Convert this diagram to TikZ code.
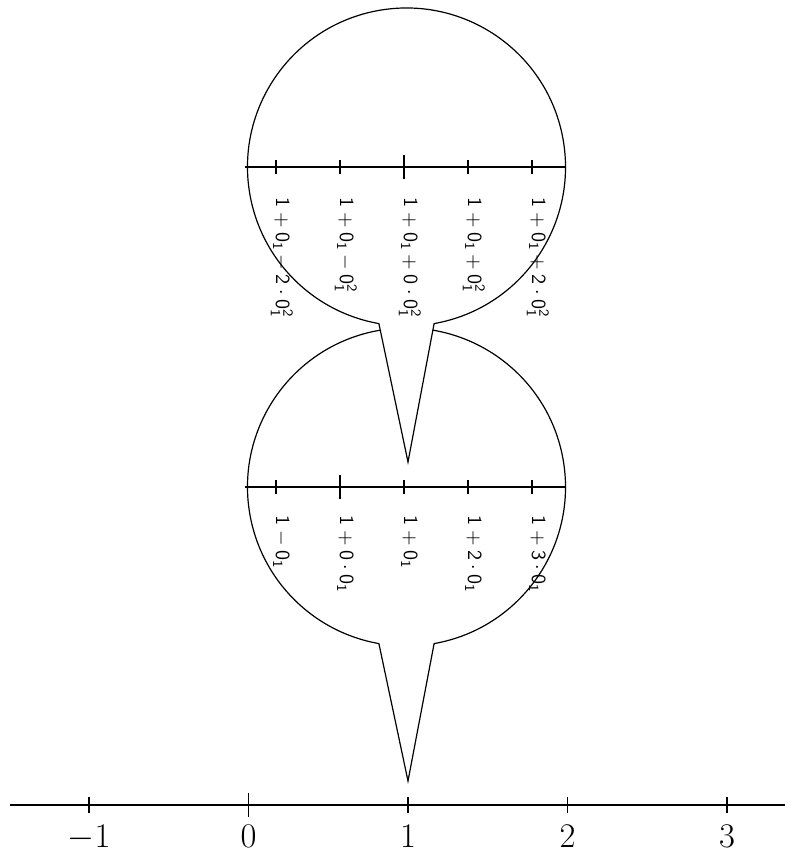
\documentclass[tikz,border=0pt]{standalone}
\usetikzlibrary{calc}
\begin{document}
\begin{tikzpicture}[x=0.5pt,y=0.5pt,line width=0.6pt,
  lab/.style={rotate=-90,anchor=base west,inner sep=0pt,font=\fontsize{10}{12}\selectfont},
  num/.style={anchor=base,inner sep=0pt,font=\fontsize{17}{20}\selectfont},
  bubble/.style={draw,fill=white}]
\useasboundingbox (0,0) rectangle (799,853);
% ---------- lower callout ----------
\coordinate (lc) at (406.5,366);
\coordinate (ltip) at (408,72);
\draw[bubble] ($(lc)+(280:159)$) arc[start angle=280,end angle=620,radius=159] -- (ltip) -- cycle;
\coordinate (la) at (245,366);
\coordinate (lb) at (566,366);
\draw (la) -- (lb);
\foreach \i/\t in {0/{1-0_1},1/{1+0\cdot 0_1},2/{1+0_1},3/{1+2\cdot 0_1},4/{1+3\cdot 0_1}}{
  \pgfmathsetmacro{\xx}{276+64*\i}
  \ifnum\i=1 \def\hl{12}\else\def\hl{7}\fi
  \coordinate (lt\i a) at (\xx,366-\hl);
  \coordinate (lt\i b) at (\xx,366+\hl);
  \draw (lt\i a) -- (lt\i b);
  \node[lab] (ll\i) at (\xx,338) {$\mathsf{\t}$};
}
% ---------- upper callout ----------
\coordinate (uc) at (406.5,686);
\coordinate (utip) at (408,391);
\draw[bubble] ($(uc)+(280:159)$) arc[start angle=280,end angle=620,radius=159] -- (utip) -- cycle;
\coordinate (ua) at (245,686);
\coordinate (ub) at (566,686);
\draw (ua) -- (ub);
\foreach \i/\t in {0/{1+0_1-2\cdot 0_1^2},1/{1+0_1-0_1^2},2/{1+0_1+0\cdot 0_1^2},3/{1+0_1+0_1^2},4/{1+0_1+2\cdot 0_1^2}}{
  \pgfmathsetmacro{\xx}{276+64*\i}
  \ifnum\i=2 \def\hl{12}\else\def\hl{7}\fi
  \coordinate (ut\i a) at (\xx,686-\hl);
  \coordinate (ut\i b) at (\xx,686+\hl);
  \draw (ut\i a) -- (ut\i b);
  \node[lab] (ul\i) at (\xx,656) {$\mathsf{\t}$};
}
% ---------- main number line ----------
\coordinate (ma) at (10,48);
\coordinate (mb) at (785,48);
\draw (ma) -- (mb);
\foreach \i/\t in {0/{-1},1/{0},2/{1},3/{2},4/{3}}{
  \pgfmathsetmacro{\xx}{89+159.5*\i}
  \ifnum\i=1 \def\hl{12}\else\def\hl{8}\fi
  \coordinate (mt\i a) at (\xx,48-\hl);
  \coordinate (mt\i b) at (\xx,48+\hl);
  \draw (mt\i a) -- (mt\i b);
  \node[num] (ml\i) at (\xx,5) {$\t$};
}
\end{tikzpicture}
\end{document}
